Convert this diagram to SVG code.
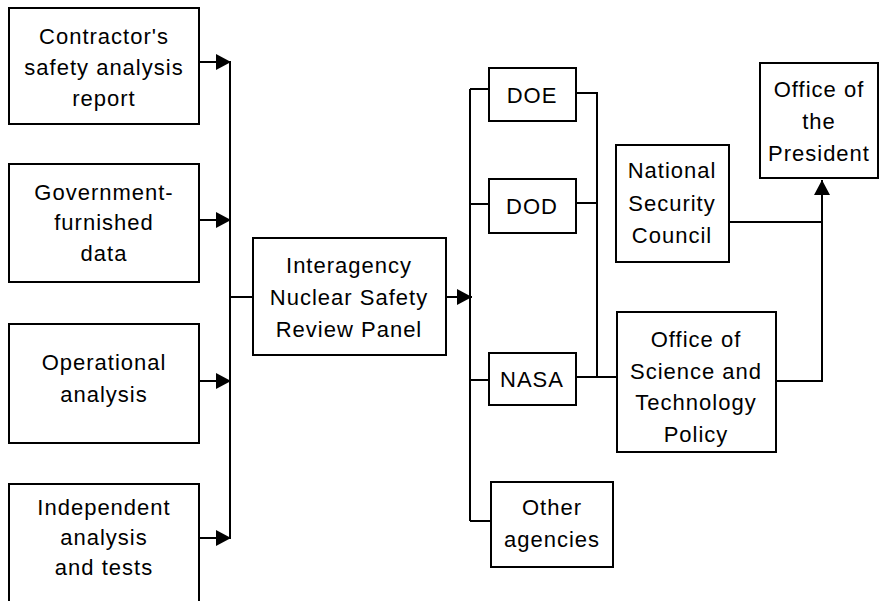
<svg xmlns="http://www.w3.org/2000/svg" width="880" height="601" viewBox="0 0 880 601">
<defs>
<style>
.box{fill:#fff;stroke:#000;stroke-width:2}
.ln{fill:none;stroke:#000;stroke-width:2}
text{font-family:"Liberation Sans",Arial,sans-serif;font-size:22px;letter-spacing:1px;fill:#000;text-anchor:middle}
</style>
<marker id="ah" markerUnits="userSpaceOnUse" markerWidth="16" markerHeight="16" refX="15" refY="8" orient="auto">
<path d="M0,0 L15,8 L0,16 Z" fill="#000"/>
</marker>
</defs>
<rect width="880" height="601" fill="#fff"/>
<g id="connectors">
<path class="ln" d="M199,62 H231" marker-end="url(#ah)"/>
<path class="ln" d="M199,220 H231" marker-end="url(#ah)"/>
<path class="ln" d="M199,381 H231" marker-end="url(#ah)"/>
<path class="ln" d="M199,538 H231" marker-end="url(#ah)"/>
<path class="ln" d="M230,62 V538"/>
<path class="ln" d="M230,297 H253"/>
<path class="ln" d="M446,297 H472" marker-end="url(#ah)"/>
<path class="ln" d="M470,89 V521"/>
<path class="ln" d="M470,89 H489 M470,204 H489 M470,380 H489 M470,521 H491"/>
<path class="ln" d="M576,93 H597 V377 M576,203 H597 M576,377 H617"/>
<path class="ln" d="M729,222 H822"/>
<path class="ln" d="M776,381 H822 V180" marker-end="url(#ah)"/>
</g>
<g id="contractor"><rect class="box" x="9" y="8" width="190" height="116"/>
<text x="104" y="44">Contractor's</text><text x="104" y="75">safety analysis</text><text x="104" y="106">report</text></g>
<g id="government"><rect class="box" x="9" y="164" width="190" height="118"/>
<text x="104" y="200">Government-</text><text x="104" y="230">furnished</text><text x="104" y="261">data</text></g>
<g id="operational"><rect class="box" x="9" y="324" width="190" height="119"/>
<text x="104" y="370">Operational</text><text x="104" y="402">analysis</text></g>
<g id="independent"><rect class="box" x="9" y="484" width="190" height="140"/>
<text x="104" y="515">Independent</text><text x="104" y="545">analysis</text><text x="104" y="575">and tests</text></g>
<g id="panel"><rect class="box" x="253" y="238" width="193" height="117"/>
<text x="349" y="273">Interagency</text><text x="349" y="305">Nuclear Safety</text><text x="349" y="337">Review Panel</text></g>
<g id="doe"><rect class="box" x="489" y="68" width="87" height="53"/><text x="532" y="103">DOE</text></g>
<g id="dod"><rect class="box" x="489" y="179" width="87" height="54"/><text x="532" y="214">DOD</text></g>
<g id="nasa"><rect class="box" x="489" y="353" width="87" height="52"/><text x="532" y="387">NASA</text></g>
<g id="other"><rect class="box" x="491" y="482" width="122" height="85"/>
<text x="552" y="515">Other</text><text x="552" y="547">agencies</text></g>
<g id="nsc"><rect class="box" x="616" y="145" width="113" height="117"/>
<text x="672" y="178">National</text><text x="672" y="211">Security</text><text x="672" y="243">Council</text></g>
<g id="ostp"><rect class="box" x="617" y="312" width="159" height="140"/>
<text x="696" y="347">Office of</text><text x="696" y="379">Science and</text><text x="696" y="410">Technology</text><text x="696" y="442">Policy</text></g>
<g id="president"><rect class="box" x="760" y="63" width="118" height="115"/>
<text x="819" y="97">Office of</text><text x="819" y="129">the</text><text x="819" y="161">President</text></g>
</svg>
